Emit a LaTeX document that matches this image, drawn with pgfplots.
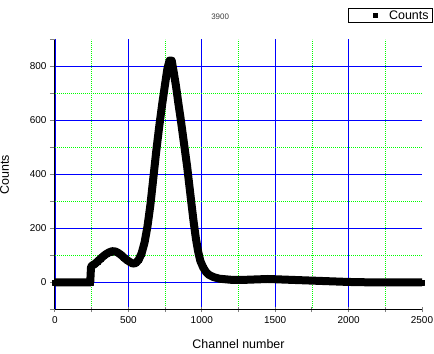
\documentclass[border=0pt]{standalone}
\usepackage{pgfplots}
\pgfplotsset{compat=1.18}
\usepackage{fontspec}
\setmainfont{Liberation Sans}
\begin{document}
\begin{tikzpicture}
\useasboundingbox (-55bp,-44.5bp) rectangle (379bp,309.5bp);
\begin{axis}[
  at={(0,0)}, anchor=south west,
  scale only axis, width=367bp, height=270bp,
  xmin=0, xmax=2500, ymin=-100, ymax=900,
  axis x line*=bottom, axis y line*=left,
  axis line style={black, line width=1bp},
  xtick={0,500,...,2000}, minor xtick={250,750,...,2250},
  extra x ticks={2500}, extra x tick style={grid=none},
  ytick={0,200,...,800}, minor ytick={100,300,...,700},
  extra y ticks={-100,900}, extra y tick labels={},
  extra y tick style={grid=none},
  major grid style={blue, line width=0.8bp},
  minor grid style={green, dash pattern=on 1bp off 1bp, line width=0.8bp},
  xmajorgrids, ymajorgrids, xminorgrids, yminorgrids,
  major tick length=5bp, minor tick length=5bp,
  tick style={line width=1bp},
  xtick align=center, ytick align=outside,
  tick label style={font=\fontsize{10}{12}\selectfont},
  /pgf/number format/assume math mode=true,
  /pgf/number format/set thousands separator={},
  xticklabel style={yshift=-1bp},
  xlabel={Channel number}, ylabel={Counts},
  label style={font=\fontsize{12.5}{14}\selectfont},
  xlabel style={yshift=-4bp},
  ylabel style={yshift=4bp},
  title={3900},
  title style={font=\fontsize{8}{9}\selectfont, text=black!75, at={(0.45,1)}, yshift=10bp},
  legend style={at={(1,1)}, anchor=north east, xshift=11bp, yshift=31.5bp,
    draw=black, line width=0.8bp, font=\fontsize{12.5}{14}\selectfont,
    inner xsep=2bp, inner ysep=0bp},
  legend image code/.code={\path (0,0) (1cm,0); \node[fill=black, minimum size=5bp, inner sep=0pt] at (0.5cm,0) {};},
  legend cell align=left,
]
\addplot[black, line width=8bp, line join=round, mark=square*, mark size=2.5bp, mark options={line width=0.3pt}] coordinates {
(0,0) (50,0) (100,0) (150,0) (200,0) (240,0) (245,55) (250,62) (270,68) (290,78)
(310,88) (330,98) (350,106) (370,112) (390,116) (410,115) (430,110) (450,102)
(470,92) (490,83) (510,76) (530,70) (550,72) (570,84) (590,108) (610,148)
(630,208) (650,288) (670,388) (690,488) (710,578) (730,660) (750,735) (765,790)
(780,822) (795,822) (810,775) (825,725) (840,665) (855,610) (870,550) (885,490)
(900,430) (915,360) (930,290) (945,222) (960,162) (975,115) (990,80) (1010,55)
(1030,38) (1050,28) (1080,20) (1120,14) (1200,10) (1300,10) (1400,12) (1450,13)
(1500,12) (1600,10) (1700,8) (1800,6) (1900,4) (2000,2) (2100,1) (2200,0)
(2300,0) (2400,0) (2500,0)
};
\addlegendentry{Counts}
\end{axis}
\end{tikzpicture}
\end{document}
